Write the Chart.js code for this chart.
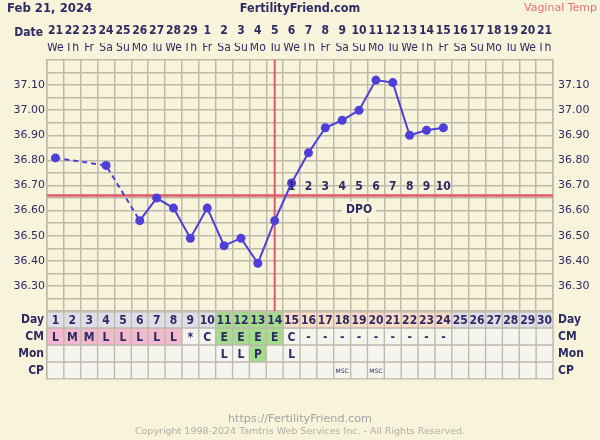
<!DOCTYPE html>
<html>
<head>
<meta charset="utf-8">
<script src="https://cdn.jsdelivr.net/npm/chart.js@4.4.1/dist/chart.umd.min.js"></script>
<style>
  html, body { margin: 0; padding: 0; background: #f8f4dc; }
  #wrap { width: 600px; height: 440px; position: relative; }
</style>
</head>
<body>
<div id="wrap"><canvas id="chart"></canvas></div>
<script>
// chart header
const chartDate = 'Feb 21, 2024';
const siteName = 'FertilityFriend.com';
const tempMethod = 'Vaginal Temp';
const footerUrl = 'https://FertilityFriend.com';
const footerCopy = 'Copyright 1998-2024 Tamtris Web Services Inc. - All Rights Reserved.';

// cycle days and calendar
const cycleDays = [1,2,3,4,5,6,7,8,9,10,11,12,13,14,15,16,17,18,19,20,21,22,23,24,25,26,27,28,29,30];
const dates = ['21','22','23','24','25','26','27','28','29','1','2','3','4','5','6','7','8','9','10','11','12','13','14','15','16','17','18','19','20','21'];
const weekdays = ['We','Th','Fr','Sa','Su','Mo','Tu','We','Th','Fr','Sa','Su','Mo','Tu','We','Th','Fr','Sa','Su','Mo','Tu','We','Th','Fr','Sa','Su','Mo','Tu','We','Th'];

// temperatures (null = not recorded)
const temps = [36.81, null, null, 36.78, null, 36.56, 36.65, 36.61, 36.49, 36.61, 36.46, 36.49, 36.39, 36.56,
               36.71, 36.83, 36.93, 36.96, 37.00, 37.12, 37.11, 36.90, 36.92, 36.93];
const tempLabels = [36.3, 36.4, 36.5, 36.6, 36.7, 36.8, 36.9, 37.0, 37.1];
const tempMin = 36.2, tempMax = 37.2;
const coverline = 36.66;
const ovulationDay = 14;
const fertileDays = [11, 12, 13, 14];
const dpoDays = [15,16,17,18,19,20,21,22,23,24];
const dpoLabels = ['1','2','3','4','5','6','7','8','9','10'];
const dpoTitleDay = 19;

// observation table
const rowNames = ['Day', 'CM', 'Mon', 'CP'];
const cmObs = ['L','M','M','L','L','L','L','L','*','C','E','E','E','E','C','-','-','-','-','-','-','-','-','-','','','','','',''];
const monObs = ['','','','','','','','','','','L','L','P','','L','','','','','','','','','','','','','','',''];
const cpObs = ['','','','','','','','','','','','','','','','','','MSC','','MSC','','','','','','','','','',''];

const NAVY = '#2e2b63';
const GRID = '#bdb9ab';
const LINE = '#4f3fd9';
const RED = '#e05a66';
const BG = '#f8f4dc';
const WHITE = '#f5f4ee';
const LAV = '#dfdee8';
const GREEN = '#a5dc8d';
const PEACH = '#f9dcc7';
const PINK = '#f3b9ce';
const COND = '"DejaVu Sans Condensed", "DejaVu Sans"';

Chart.defaults.font.family = 'DejaVu Sans';

function dayColor(d) {
  if (fertileDays.includes(d)) return GREEN;
  if (d > ovulationDay && d <= temps.length) return PEACH;
  return LAV;
}
function cmColor(c) { return c === 'E' ? GREEN : (c === 'L' || c === 'M') ? PINK : WHITE; }
function monColor(c) { return c === 'P' ? GREEN : WHITE; }

const tableRows = [
  { text: cycleDays.map(String), colors: cycleDays.map(dayColor), font: 'bold 12px ' + COND },
  { text: cmObs, colors: cmObs.map(cmColor), font: 'bold 12px ' + COND },
  { text: monObs, colors: monObs.map(monColor), font: 'bold 12px ' + COND },
  { text: cpObs, colors: cpObs.map(() => WHITE), font: '6px "DejaVu Sans"' }
];

const xMin = 0.5, xMax = cycleDays.length + 0.5;

const datasets = [
  {
    type: 'line',
    label: 'Temp',
    data: temps.map((t, i) => ({ x: cycleDays[i], y: t })),
    xAxisID: 'x', yAxisID: 'y',
    borderColor: LINE, backgroundColor: LINE,
    borderWidth: 2, pointRadius: 4.5, pointBorderWidth: 0,
    spanGaps: true, tension: 0, order: 0,
    segment: { borderDash: ctx => (ctx.p0.skip || ctx.p1.skip) ? [5, 4] : undefined }
  },
  {
    type: 'line', label: 'Coverline',
    data: [{ x: xMin, y: coverline }, { x: xMax, y: coverline }],
    xAxisID: 'x', yAxisID: 'y',
    borderColor: RED, borderWidth: 2.5, pointRadius: 0, order: 1
  },
  {
    type: 'line', label: 'Ovulation',
    data: [{ x: ovulationDay, y: tempMin }, { x: ovulationDay, y: tempMax }],
    xAxisID: 'x', yAxisID: 'y',
    borderColor: RED, borderWidth: 2, pointRadius: 0, order: 1
  }
];
tableRows.forEach((row, r) => {
  datasets.push({
    type: 'bar', label: rowNames[r],
    data: cycleDays.map(d => ({ x: d, y: [r, r + 1] })),
    xAxisID: 'x', yAxisID: 'tbl',
    backgroundColor: row.colors, borderColor: GRID, borderWidth: 1,
    borderSkipped: false, grouped: false,
    barPercentage: 1, categoryPercentage: 1, order: 3
  });
});

const textPlugin = {
  id: 'ffText',
  afterDatasetsDraw(chart) {
    const ctx = chart.ctx;
    ctx.save();
    ctx.textAlign = 'center';
    ctx.textBaseline = 'middle';
    ctx.fillStyle = NAVY;
    // table cell text
    tableRows.forEach((row, r) => {
      const meta = chart.getDatasetMeta(3 + r);
      ctx.font = row.font;
      meta.data.forEach((el, j) => {
        if (row.text[j]) ctx.fillText(row.text[j], el.x, (el.y + el.base) / 2 + 1);
      });
    });
    // DPO numbers
    const xs = chart.scales.x, ys = chart.scales.y;
    const cy = ys.getPixelForValue(coverline);
    ctx.font = 'bold 12px ' + COND;
    dpoDays.forEach((d, i) => ctx.fillText(dpoLabels[i], xs.getPixelForValue(d), cy - 9));
    const dx = xs.getPixelForValue(dpoTitleDay);
    const w = ctx.measureText('DPO').width + 8;
    ctx.fillStyle = BG;
    ctx.fillRect(dx - w / 2, cy + 6, w, 16);
    ctx.fillStyle = NAVY;
    ctx.fillText('DPO', dx, cy + 14);
    ctx.restore();
  },
  afterDraw(chart) {
    const ctx = chart.ctx;
    ctx.save();
    ctx.textBaseline = 'middle';
    ctx.fillStyle = NAVY;
    ctx.font = 'bold 13px ' + COND;
    ctx.textAlign = 'left';
    ctx.fillText(chartDate, 7, 9);
    ctx.textAlign = 'center';
    ctx.font = 'bold 12.5px ' + COND;
    ctx.fillText(siteName, 300, 9);
    ctx.font = '11px "DejaVu Sans"';
    ctx.textAlign = 'right';
    ctx.fillStyle = '#e46f7b';
    ctx.fillText(tempMethod, 597, 8);
    ctx.fillStyle = NAVY;
    ctx.font = 'bold 12px ' + COND;
    ctx.fillText('Date', 43, 33);
    ctx.textAlign = 'center';
    ctx.fillStyle = '#a3a3a3';
    ctx.font = '11.2px "DejaVu Sans"';
    ctx.fillText(footerUrl, 300, 419);
    ctx.fillStyle = '#b0aea6';
    ctx.font = '9.5px "DejaVu Sans"';
    ctx.fillText(footerCopy, 300, 432);
    ctx.restore();
  }
};

function dayTicks(s) { s.ticks = cycleDays.map(d => ({ value: d })); }
function tempTicks(s) {
  const n = Math.round((s.max - s.min) / 0.05);
  const t = [];
  for (let i = 0; i <= n; i++) t.push({ value: +(s.min + i * 0.05).toFixed(2) });
  s.ticks = t;
}
function tempLabel(v) {
  return tempLabels.some(t => Math.abs(t - v) < 1e-6) ? v.toFixed(2) : '';
}
function rowTicks(s) {
  const t = [];
  for (let i = 0; i <= rowNames.length * 2; i++) t.push({ value: i / 2 });
  s.ticks = t;
}
function rowLabel(v) { return (v % 1) === 0.5 ? rowNames[Math.floor(v)] : ''; }

const tickFont = { size: 11 };
const rowFont = { family: COND, size: 12, weight: 'bold' };
new Chart(document.getElementById('chart'), {
  data: { datasets },
  plugins: [textPlugin],
  options: {
    responsive: true,
    maintainAspectRatio: false,
    animation: false,
    events: [],
    layout: { padding: { top: 24, bottom: 61, left: 0, right: 0 } },
    plugins: { legend: { display: false }, tooltip: { enabled: false } },
    scales: {
      x: {
        type: 'linear', position: 'bottom', min: xMin, max: xMax, offset: false,
        afterBuildTicks: s => {
          const t = [];
          for (let d = 0; d <= cycleDays.length; d++) t.push({ value: xMin + d });
          s.ticks = t;
        },
        afterFit: s => { s.height = 0; },
        ticks: { display: false },
        grid: { color: GRID, lineWidth: 1.5, drawTicks: false, offset: false },
        border: { display: false }
      },
      xDate: {
        type: 'linear', position: 'top', min: xMin, max: xMax, weight: 2, offset: false,
        afterBuildTicks: dayTicks, afterFit: s => { s.height = 19; },
        ticks: { autoSkip: false, maxRotation: 0, padding: 5, color: NAVY,
                 font: { family: COND, size: 12, weight: 'bold' }, callback: (v, i) => dates[i] },
        grid: { display: false, drawTicks: false }, border: { display: false }
      },
      xWeek: {
        type: 'linear', position: 'top', min: xMin, max: xMax, weight: 1, offset: false,
        afterBuildTicks: dayTicks, afterFit: s => { s.height = 17; },
        ticks: { autoSkip: false, maxRotation: 0, padding: 5, color: NAVY,
                 font: { family: COND, size: 12 }, callback: (v, i) => weekdays[i] },
        grid: { display: false, drawTicks: false }, border: { display: false }
      },
      y: {
        type: 'linear', position: 'left', stack: 'left', stackWeight: 251, weight: 2,
        min: tempMin, max: tempMax,
        afterBuildTicks: tempTicks, afterFit: s => { s.width = 47; },
        ticks: { autoSkip: false, padding: 2, color: NAVY, font: tickFont, callback: tempLabel },
        grid: { color: GRID, lineWidth: 1.5, drawTicks: false },
        border: { color: GRID, width: 1.5 }
      },
      tbl: {
        type: 'linear', position: 'left', stack: 'left', stackWeight: 68, weight: 1,
        min: 0, max: rowNames.length, reverse: true,
        afterBuildTicks: rowTicks, afterFit: s => { s.width = 47; },
        ticks: { autoSkip: false, padding: 3, color: NAVY, font: rowFont, callback: rowLabel },
        grid: { color: c => (c.tick && c.tick.value % 1 === 0) ? GRID : 'rgba(0,0,0,0)', lineWidth: 1.5, drawTicks: false },
        border: { color: GRID, width: 1.5 }
      },
      yR: {
        type: 'linear', position: 'right', stack: 'right', stackWeight: 251, weight: 1,
        min: tempMin, max: tempMax,
        afterBuildTicks: tempTicks, afterFit: s => { s.width = 47; },
        ticks: { autoSkip: false, padding: 5, color: NAVY, font: tickFont, callback: tempLabel },
        grid: { display: false, drawTicks: false },
        border: { color: GRID, width: 1.5 }
      },
      tblR: {
        type: 'linear', position: 'right', stack: 'right', stackWeight: 68, weight: 2,
        min: 0, max: rowNames.length, reverse: true,
        afterBuildTicks: rowTicks, afterFit: s => { s.width = 47; },
        ticks: { autoSkip: false, padding: 5, color: NAVY, font: rowFont, callback: rowLabel },
        grid: { display: false, drawTicks: false },
        border: { color: GRID, width: 1.5 }
      }
    }
  }
});
</script>
</body>
</html>
